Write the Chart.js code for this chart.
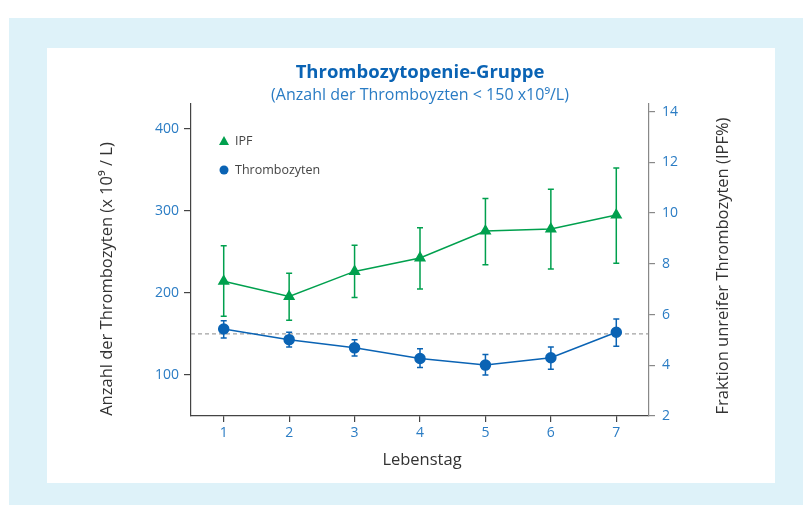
<!DOCTYPE html>
<html lang="de">
<head>
<meta charset="utf-8">
<title>Thrombozytopenie-Gruppe</title>
<script src="https://cdn.jsdelivr.net/npm/chart.js@4.4.1/dist/chart.umd.min.js"></script>
<style>
  html, body { margin: 0; padding: 0; background: #fff; }
  #wrap { width: 803px; height: 505px; }
</style>
</head>
<body>
<div id="wrap"><canvas id="chart" width="803" height="505"></canvas></div>
<script>
const days = [1, 2, 3, 4, 5, 6, 7];

// IPF in %, right axis (mean with lower / upper whisker)
const ipfMean = [7.31, 6.71, 7.70, 8.23, 9.29, 9.37, 9.92];
const ipfLow  = [5.93, 5.77, 6.67, 7.01, 7.96, 7.80, 8.02];
const ipfHigh = [8.71, 7.63, 8.73, 9.42, 10.57, 10.94, 11.78];

// Thrombozyten x10^9/L, left axis
const pltMean = [156, 143, 133, 120, 112, 121, 152];
const pltLow  = [145, 134, 123, 109, 100, 107, 135];
const pltHigh = [166, 152, 143, 132, 125, 134, 168];

const leftTicks = [100, 200, 300, 400];
const rightTicks = [2, 4, 6, 8, 10, 12, 14];
const threshold = 150;

const GREEN = '#00a04e';
const BLUE = '#0a63b4';
const TICK_BLUE = '#2a7cc4';
const FONT = '"Open Sans", "Noto Sans", sans-serif';

// panel background, frame
const background = {
    id: 'background',
    beforeDraw(chart) {
        const ctx = chart.ctx;
        ctx.save();
        ctx.fillStyle = '#fff';
        ctx.fillRect(0, 0, chart.width, chart.height);
        ctx.fillStyle = '#def2f9';
        ctx.fillRect(9, 18, chart.width - 9, chart.height - 18);
        ctx.fillStyle = '#fff';
        ctx.fillRect(47, 48, 728, 435);
        ctx.restore();
    }
};

// dashed 150 line + error bars, under the markers
const errorBars = {
    id: 'errorBars',
    beforeDatasetsDraw(chart) {
        const ctx = chart.ctx;
        const area = chart.chartArea;
        const yl = chart.scales.y;
        const ty = yl.getPixelForValue(threshold);
        ctx.save();
        ctx.strokeStyle = '#8a8a8a';
        ctx.lineWidth = 1;
        ctx.setLineDash([4, 3]);
        ctx.beginPath();
        ctx.moveTo(area.left, ty);
        ctx.lineTo(area.right, ty);
        ctx.stroke();
        ctx.setLineDash([]);

        chart.data.datasets.forEach((ds, i) => {
            const meta = chart.getDatasetMeta(i);
            const yScale = chart.scales[ds.yAxisID];
            ctx.strokeStyle = ds.borderColor;
            ctx.lineWidth = 1.5;
            meta.data.forEach((pt, j) => {
                const lo = yScale.getPixelForValue(ds.errLow[j]);
                const hi = yScale.getPixelForValue(ds.errHigh[j]);
                ctx.beginPath();
                ctx.moveTo(pt.x, lo);
                ctx.lineTo(pt.x, hi);
                ctx.moveTo(pt.x - 3, lo);
                ctx.lineTo(pt.x + 3, lo);
                ctx.moveTo(pt.x - 3, hi);
                ctx.lineTo(pt.x + 3, hi);
                ctx.stroke();
            });
        });
        ctx.restore();
    }
};

// titles, axis titles and the legend
const labels = {
    id: 'labels',
    afterDraw(chart) {
        const ctx = chart.ctx;
        ctx.save();
        ctx.textAlign = 'center';
        ctx.textBaseline = 'middle';

        ctx.fillStyle = BLUE;
        ctx.font = 'bold 18.5px ' + FONT;
        ctx.fillText('Thrombozytopenie-Gruppe', 420, 73);
        ctx.fillStyle = TICK_BLUE;
        ctx.font = '16px ' + FONT;
        ctx.fillText('(Anzahl der Thromboyzten < 150 x10⁹/L)', 420, 95);

        ctx.fillStyle = '#333';
        ctx.font = '16.5px ' + FONT;
        ctx.fillText('Lebenstag', 422, 460);

        ctx.save();
        ctx.translate(107, 279);
        ctx.rotate(-Math.PI / 2);
        ctx.fillText('Anzahl der Thrombozyten (x 10⁹ / L)', 0, 0);
        ctx.restore();

        ctx.save();
        ctx.translate(723, 266);
        ctx.rotate(-Math.PI / 2);
        ctx.fillText('Fraktion unreifer Thrombozyten (IPF%)', 0, 0);
        ctx.restore();

        // legend
        ctx.textAlign = 'left';
        ctx.font = '12.5px ' + FONT;
        ctx.fillStyle = '#444';
        ctx.fillText('IPF', 235, 141);
        ctx.fillText('Thrombozyten', 235, 170);

        ctx.fillStyle = GREEN;
        ctx.beginPath();
        ctx.moveTo(224, 136);
        ctx.lineTo(229, 145);
        ctx.lineTo(219, 145);
        ctx.closePath();
        ctx.fill();

        ctx.fillStyle = BLUE;
        ctx.beginPath();
        ctx.arc(224, 170, 4.5, 0, Math.PI * 2);
        ctx.fill();
        ctx.restore();
    }
};

const tickFont = { family: FONT, size: 14 };

new Chart(document.getElementById('chart'), {
    type: 'line',
    data: {
        datasets: [
            {
                label: 'IPF',
                data: days.map((d, i) => ({ x: d, y: ipfMean[i] })),
                errLow: ipfLow,
                errHigh: ipfHigh,
                yAxisID: 'y2',
                borderColor: GREEN,
                backgroundColor: GREEN,
                borderWidth: 1.5,
                pointStyle: 'triangle',
                pointRadius: 5.5,
                tension: 0
            },
            {
                label: 'Thrombozyten',
                data: days.map((d, i) => ({ x: d, y: pltMean[i] })),
                errLow: pltLow,
                errHigh: pltHigh,
                yAxisID: 'y',
                borderColor: BLUE,
                backgroundColor: BLUE,
                borderWidth: 1.5,
                pointStyle: 'circle',
                pointRadius: 5,
                tension: 0
            }
        ]
    },
    options: {
        responsive: false,
        animation: false,
        devicePixelRatio: 1,
        layout: { padding: { top: 104, left: 0, right: 0, bottom: 0 } },
        plugins: {
            legend: { display: false },
            tooltip: { enabled: false }
        },
        scales: {
            x: {
                type: 'linear',
                min: 0.5,
                max: 7.5,
                afterBuildTicks: s => { s.ticks = days.map(v => ({ value: v })); },
                afterFit: s => { s.height = 89; },
                grid: { drawOnChartArea: false, tickLength: 6, tickColor: '#444', lineWidth: 1.2 },
                border: { color: '#444', width: 1.2 },
                ticks: { color: TICK_BLUE, font: tickFont, padding: 3 }
            },
            y: {
                position: 'left',
                min: 50,
                max: 430,
                afterBuildTicks: s => { s.ticks = leftTicks.map(v => ({ value: v })); },
                afterFit: s => { s.width = 191; },
                grid: { drawOnChartArea: false, tickLength: 7, tickColor: '#444', lineWidth: 1.2 },
                border: { color: '#444', width: 1.2 },
                ticks: { color: TICK_BLUE, font: tickFont, padding: 5 }
            },
            y2: {
                position: 'right',
                min: 2,
                max: 14.3,
                afterBuildTicks: s => { s.ticks = rightTicks.map(v => ({ value: v })); },
                afterFit: s => { s.width = 154; },
                grid: { drawOnChartArea: false, tickLength: 6, tickColor: '#888', lineWidth: 1.2 },
                border: { color: '#888', width: 1.2 },
                ticks: { color: TICK_BLUE, font: tickFont, padding: 7 }
            }
        }
    },
    plugins: [background, errorBars, labels]
});
</script>
</body>
</html>
